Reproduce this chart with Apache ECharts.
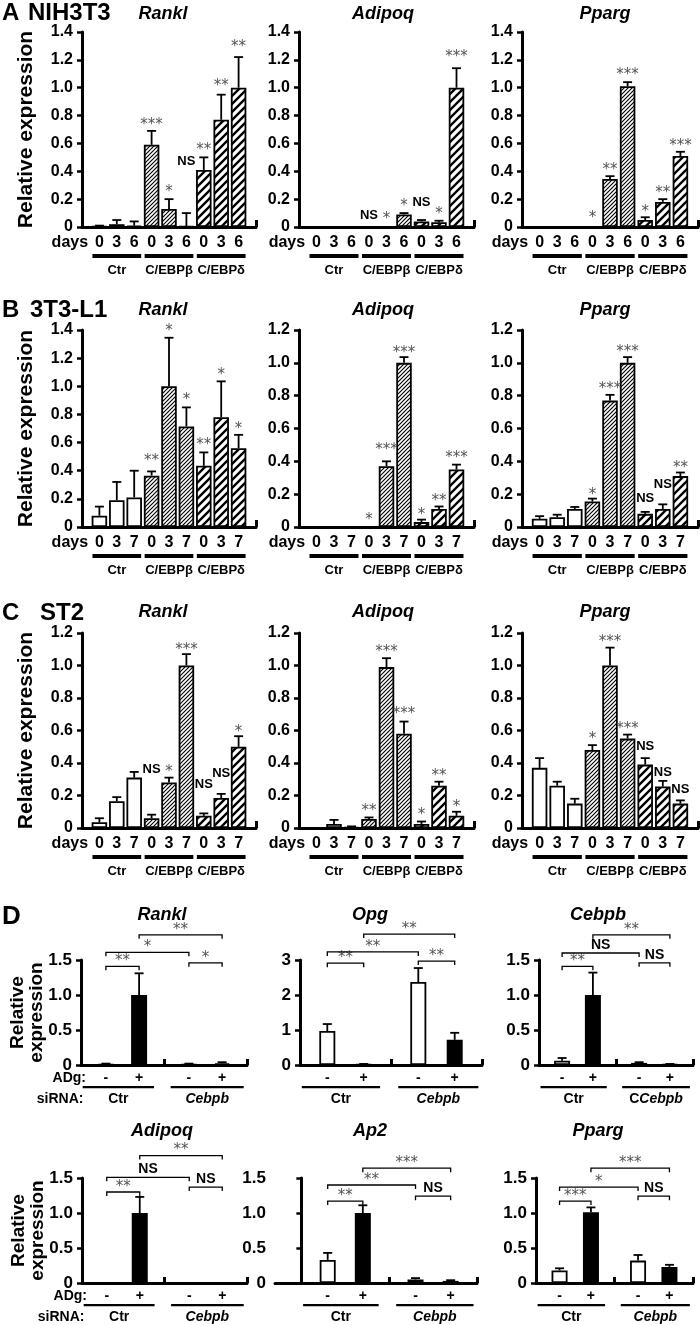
<!DOCTYPE html>
<html><head><meta charset="utf-8">
<script src="https://cdn.jsdelivr.net/npm/echarts@6/dist/echarts.min.js"></script>
<style>html,body{margin:0;padding:0;background:#fff}#c{width:700px;height:1325px}</style>
</head><body><div id="c"></div>
<script>
// ---------- DATA ----------
const daysA = ['0','3','6'];
const daysBC = ['0','3','7'];
const groupsABC = ['Ctr','C/EBPβ','C/EBPδ'];
const adgLabels = ['-','+','-','+'];
const sirnaGroups = ['Ctr','Cebpb'];

// A  NIH3T3
const A_rankl     = [0.005,0.02,0.01, 0.59,0.13,0.005, 0.41,0.77,1.0];
const A_rankl_err = [0.01,0.05,0.04, 0.69,0.2,0.1, 0.5,0.95,1.22];
const A_rankl_sig = [[4,0.75,'***'],[5,0.27,'*'],[6,0.47,'NS'],[7,0.57,'**'],[8,1.03,'**'],[9,1.31,'**']];
const A_adipoq     = [null,null,null, null,null,0.09, 0.04,0.035,1.0];
const A_adipoq_err = [null,null,null, null,null,0.1, 0.05,0.045,1.14];
const A_adipoq_sig = [[4,0.08,'NS'],[5,0.075,'*'],[6,0.175,'*'],[7,0.18,'NS'],[8,0.115,'*'],[9,1.24,'***']];
const A_pparg     = [null,null,null, null,0.345,1.01, 0.05,0.18,0.51];
const A_pparg_err = [null,null,null, null,0.365,1.04, 0.07,0.2,0.54];
const A_pparg_sig = [[4,0.085,'*'],[5,0.43,'**'],[6,1.11,'***'],[7,0.13,'*'],[8,0.265,'**'],[9,0.6,'***']];

// B  3T3-L1
const B_rankl     = [0.08,0.19,0.21, 0.365,1.0,0.715, 0.435,0.78,0.56];
const B_rankl_err = [0.145,0.32,0.40, 0.395,1.345,0.85, 0.53,1.035,0.655];
const B_rankl_sig = [[4,0.49,'**'],[5,1.41,'*'],[6,0.92,'*'],[7,0.6,'**'],[8,1.1,'*'],[9,0.72,'*']];
const B_adipoq     = [null,null,null, null,0.37,1.0, 0.03,0.11,0.35];
const B_adipoq_err = [null,null,null, null,0.4,1.035, 0.045,0.125,0.38];
const B_adipoq_sig = [[4,0.06,'*'],[5,0.485,'***'],[6,1.08,'***'],[7,0.09,'*'],[8,0.175,'**'],[9,0.435,'***']];
const B_pparg     = [0.05,0.06,0.11, 0.155,0.77,1.0, 0.08,0.11,0.31];
const B_pparg_err = [0.066,0.075,0.122, 0.173,0.805,1.035, 0.092,0.138,0.332];
const B_pparg_sig = [[4,0.215,'*'],[5,0.86,'***'],[6,1.085,'***'],[7,0.175,'NS'],[8,0.26,'NS'],[9,0.38,'**']];

// C  ST2
const C_rankl     = [0.035,0.165,0.31, 0.06,0.28,1.0, 0.075,0.185,0.5];
const C_rankl_err = [0.06,0.19,0.345, 0.082,0.31,1.07, 0.09,0.21,0.565];
const C_rankl_sig = [[4,0.36,'NS'],[5,0.365,'*'],[6,1.115,'***'],[7,0.27,'NS'],[8,0.335,'NS'],[9,0.61,'*']];
const C_adipoq     = [null,0.025,0.005, 0.055,0.99,0.58, 0.025,0.26,0.075];
const C_adipoq_err = [null,0.05,0.01, 0.065,1.045,0.655, 0.04,0.285,0.1];
const C_adipoq_sig = [[4,0.12,'**'],[5,1.1,'***'],[6,0.72,'***'],[7,0.095,'*'],[8,0.335,'**'],[9,0.15,'*']];
const C_pparg     = [0.37,0.26,0.15, 0.48,1.0,0.55, 0.39,0.255,0.15];
const C_pparg_err = [0.43,0.285,0.18, 0.51,1.11,0.575, 0.43,0.29,0.17];
const C_pparg_sig = [[4,0.565,'*'],[5,1.16,'***'],[6,0.625,'***'],[7,0.5,'NS'],[8,0.345,'NS'],[9,0.24,'NS']];

// D  siRNA (order: Ctr -, Ctr +, Cebpb -, Cebpb +); brackets [barA, barB, level, text]
const D_rankl     = [0.01,1.0,0.01,0.025];
const D_rankl_err = [0.02,1.31,0.02,0.04];
const D_rankl_br  = [[0,1,1.41,'**'],[0,2,1.61,'*'],[2,3,1.46,'*'],[1,3,1.86,'**']];
const D_opg       = [0.97,0.02,2.37,0.72];
const D_opg_err   = [1.17,0.03,2.77,0.92];
const D_opg_br    = [[0,1,2.91,'**'],[0,2,3.23,'**'],[2,3,2.97,'**'],[1,3,3.74,'**']];
const D_cebpb     = [0.06,1.0,0.03,0.01];
const D_cebpb_err = [0.1,1.32,0.04,0.015];
const D_cebpb_br  = [[0,1,1.41,'**'],[0,2,1.6,'NS'],[2,3,1.46,'NS'],[1,3,1.86,'**']];
const D_adipoq     = [null,1.0,null,null];
const D_adipoq_err = [null,1.23,null,null];
const D_adipoq_br  = [[0,1,1.3,'**'],[0,2,1.51,'NS'],[2,3,1.37,'NS'],[1,3,1.82,'**']];
const D_ap2       = [0.33,1.0,0.05,0.03];
const D_ap2_err   = [0.43,1.11,0.07,0.04];
const D_ap2_br    = [[0,1,1.17,'**'],[0,2,1.4,'**'],[2,3,1.24,'NS'],[1,3,1.64,'***']];
const D_pparg     = [0.18,1.01,0.32,0.23];
const D_pparg_err = [0.21,1.08,0.40,0.26];
const D_pparg_br  = [[0,1,1.17,'***'],[0,2,1.37,'*'],[2,3,1.24,'NS'],[1,3,1.64,'***']];

// ---------- RENDER ----------
const FONT = '"Liberation Sans", Arial, Helvetica, sans-serif';
const STARFONT = '15px "DejaVu Sans", sans-serif';
function hatch(size, lw) {
  const c = document.createElement('canvas');
  c.width = c.height = size;
  const g = c.getContext('2d');
  g.fillStyle = '#fff'; g.fillRect(0,0,size,size);
  g.strokeStyle = '#000'; g.lineWidth = lw; g.lineCap = 'square';
  g.beginPath();
  for (let k = -1; k <= 1; k++) { g.moveTo(k*size, size); g.lineTo(k*size + size, 0); }
  g.stroke();
  return c;
}
const FILLS = ['#ffffff', {image: hatch(4, 1.1), repeat: 'repeat'}, {image: hatch(8, 2.4), repeat: 'repeat'}];

const grids = [], xAxes = [], yAxes = [], series = [], graphic = [];

function yAxisDef(gi, max, interval, fmt, fs, name, nameGap, nameFs, lh) {
  return {gridIndex: gi, type: 'value', min: 0, max, interval, splitLine: {show: false},
    axisLine: {show: true, lineStyle: {color: '#000', width: 3}},
    axisTick: {show: true, inside: false, length: 5, lineStyle: {color: '#000', width: 2.5}},
    axisLabel: {color: '#000', fontFamily: FONT, fontWeight: 'bold', fontSize: fs, margin: 9, formatter: fmt},
    name: name || '', nameLocation: 'middle', nameGap: nameGap || 0, nameMoveOverlap: false,
    nameTextStyle: {color: '#000', fontFamily: FONT, fontWeight: 'bold', fontSize: nameFs || 12, lineHeight: lh || 14}};
}
function errSeries(gi, xs, vals, errs, cap) {
  const d = [];
  errs.forEach((e, i) => { if (e != null) d.push([xs[i], e, vals[i] || 0]); });
  return {type: 'custom', xAxisIndex: gi, yAxisIndex: gi, clip: false, z: 4, data: d,
    renderItem: (p, api) => {
      const x = api.value(0);
      const top = api.coord([x, api.value(1)]), base = api.coord([x, api.value(2)]);
      return {type: 'group', children: [
        {type: 'line', shape: {x1: top[0], y1: base[1], x2: top[0], y2: top[1]}, style: {stroke: '#000', lineWidth: 1.8}},
        {type: 'line', shape: {x1: top[0]-cap, y1: top[1], x2: top[0]+cap, y2: top[1]}, style: {stroke: '#000', lineWidth: 1.8}}]};
    }};
}
function txt(label, x, y, nsFont) {
  const star = label !== 'NS';
  return {type: 'text', x, y: y + (star ? 3 : 0), style: {text: label, align: 'center', verticalAlign: 'middle',
    font: star ? STARFONT : nsFont, fill: star ? '#555' : '#000'}};
}

function addABC(gi, rect, ymax, vals, errs, sigs, days, withName) {
  const [l, r, t, h] = rect;
  grids.push({left: l, top: t, width: r - l, height: h, containLabel: false, outerBoundsMode: 'none'});
  const xs = vals.map((v, i) => i + 1);
  xAxes.push({gridIndex: gi, type: 'value', min: 0, max: 10, splitLine: {show: false},
    axisLine: {show: true, onZero: false, lineStyle: {color: '#000', width: 3}},
    axisTick: {show: true, inside: true, length: 7, lineStyle: {color: '#000', width: 3}, customValues: [10]},
    axisLabel: {show: true, customValues: xs, formatter: v => days[(Math.round(v) - 1) % 3],
      color: '#000', fontFamily: FONT, fontWeight: 'bold', fontSize: 16, margin: 8}});
  yAxes.push(yAxisDef(gi, ymax, 0.2, v => v === 0 ? '0' : v.toFixed(1), 16,
    withName ? 'Relative expression' : '', 44, 21, 24));
  const bd = [];
  vals.forEach((v, i) => { if (v != null) bd.push({value: [xs[i], v], itemStyle: {color: FILLS[Math.floor(i / 3)]}}); });
  series.push({type: 'bar', xAxisIndex: gi, yAxisIndex: gi, barWidth: 15.5, data: bd,
    itemStyle: {borderColor: '#000', borderWidth: 1.8}});
  series.push(errSeries(gi, xs, vals, errs, 4.5));
  series.push({type: 'custom', xAxisIndex: gi, yAxisIndex: gi, clip: false, z: 5,
    data: sigs.map(s => [s[0], s[1]]),
    renderItem: (p, api) => {
      const s = sigs[p.dataIndex]; const pt = api.coord([s[0], s[1]]);
      return txt(s[2], pt[0], pt[1], 'bold 13px ' + FONT);
    }});
  // group underlines + labels + "days"
  const spans = groupsABC.map((g, k) => [3 * k + 0.6, 3 * k + 3.4]);
  series.push({type: 'custom', xAxisIndex: gi, yAxisIndex: gi, clip: false, z: 5,
    data: spans.map(s => [s[0], s[1]]).concat([[0.35, 0.35]]),
    renderItem: (p, api) => {
      const a = api.coord([api.value(0), 0]), b = api.coord([api.value(1), 0]);
      if (p.dataIndex === spans.length) {
        return {type: 'text', x: a[0], y: a[1] + 16, style: {text: 'days', align: 'right', verticalAlign: 'middle',
          font: 'bold 16px ' + FONT, fill: '#000'}};
      }
      return {type: 'group', children: [
        {type: 'rect', shape: {x: a[0], y: a[1] + 27, width: b[0] - a[0], height: 4}, style: {fill: '#000'}},
        {type: 'text', x: (a[0] + b[0]) / 2, y: a[1] + 43, style: {text: groupsABC[p.dataIndex], align: 'center',
          verticalAlign: 'middle', font: 'bold 13px ' + FONT, fill: '#000'}}]};
    }});
}

const DX = [1.5, 3.5, 6.5, 8.5];
function addD(gi, rect, xmin, ymax, yint, vals, errs, brs, withLabels, groupRich) {
  const [l, r, t, h] = rect;
  grids.push({left: l, top: t, width: r - l, height: h, containLabel: false, outerBoundsMode: 'none'});
  xAxes.push({gridIndex: gi, type: 'value', min: xmin, max: 10, splitLine: {show: false},
    axisLine: {show: true, onZero: false, lineStyle: {color: '#000', width: 3}},
    axisTick: {show: true, inside: true, length: 6, lineStyle: {color: '#000', width: 3}, customValues: [5, 10]},
    axisLabel: {show: true, customValues: DX, formatter: v => adgLabels[DX.indexOf(v)],
      color: '#000', fontFamily: FONT, fontWeight: 'bold', fontSize: 14, margin: 6}});
  yAxes.push(yAxisDef(gi, ymax, yint, v => v === 0 ? '0' : (yint < 1 ? v.toFixed(1) : String(v)), 17,
    withLabels ? 'Relative\nexpression' : '', 35, 19, 19));
  const bd = [];
  vals.forEach((v, i) => { if (v != null) bd.push({value: [DX[i], v], itemStyle: {color: i % 2 ? '#000' : '#fff'}}); });
  series.push({type: 'bar', xAxisIndex: gi, yAxisIndex: gi, barWidth: 16, data: bd,
    itemStyle: {borderColor: '#000', borderWidth: 1.8}});
  series.push(errSeries(gi, DX, vals, errs, 4.5));
  series.push({type: 'custom', xAxisIndex: gi, yAxisIndex: gi, clip: false, z: 5,
    data: brs.map(b => [DX[b[0]], b[2], DX[b[1]]]),
    renderItem: (p, api) => {
      const b = brs[p.dataIndex];
      const a = api.coord([DX[b[0]], b[2]]), c = api.coord([DX[b[1]], b[2]]);
      return {type: 'group', children: [
        {type: 'polyline', shape: {points: [[a[0], a[1] + 4], [a[0], a[1]], [c[0], c[1]], [c[0], c[1] + 4]]},
          style: {stroke: '#000', lineWidth: 1.3, fill: null}},
        txt(b[3], (a[0] + c[0]) / 2, a[1] - 8, 'bold 14px ' + FONT)]};
    }});
  const spans = [[0.1, 4.4], [5.4, 9.8]];
  series.push({type: 'custom', xAxisIndex: gi, yAxisIndex: gi, clip: false, z: 5,
    data: spans.map(s => [s[0], s[1]]).concat(withLabels ? [[0.3, 0.3], [0.15, 0.15]] : []),
    renderItem: (p, api) => {
      const a = api.coord([api.value(0), 0]), b = api.coord([api.value(1), 0]);
      if (p.dataIndex === 2) return {type: 'text', x: a[0], y: a[1] + 13, style: {text: 'ADg:', align: 'right',
          verticalAlign: 'middle', font: 'bold 14px ' + FONT, fill: '#000'}};
      if (p.dataIndex === 3) return {type: 'text', x: a[0], y: a[1] + 34, style: {text: 'siRNA:', align: 'right',
          verticalAlign: 'middle', font: 'bold 14px ' + FONT, fill: '#000'}};
      const k = p.dataIndex;
      let label;
      if (k === 0) label = {text: sirnaGroups[0], font: 'bold 14px ' + FONT};
      else if (groupRich) label = {text: '{n|C}{i|' + sirnaGroups[1] + '}', rich: {n: {font: 'bold 14px ' + FONT}, i: {font: 'italic bold 14px ' + FONT}}};
      else label = {text: sirnaGroups[1], font: 'italic bold 14px ' + FONT};
      return {type: 'group', children: [
        {type: 'rect', shape: {x: a[0], y: a[1] + 21, width: b[0] - a[0], height: 2.2}, style: {fill: '#000'}},
        {type: 'text', x: (a[0] + b[0]) / 2, y: a[1] + 34, style: Object.assign({align: 'center', verticalAlign: 'middle', fill: '#000'}, label)}]};
    }});
}

// layout
const colsABC = [[82, 256], [299, 474], [522, 698]];
const rowsABC = [[32, 195], [330, 197], [633, 195]];
const panelsABC = [
  [[A_rankl, A_rankl_err, A_rankl_sig, 1.4], [A_adipoq, A_adipoq_err, A_adipoq_sig, 1.4], [A_pparg, A_pparg_err, A_pparg_sig, 1.4]],
  [[B_rankl, B_rankl_err, B_rankl_sig, 1.4], [B_adipoq, B_adipoq_err, B_adipoq_sig, 1.2], [B_pparg, B_pparg_err, B_pparg_sig, 1.2]],
  [[C_rankl, C_rankl_err, C_rankl_sig, 1.2], [C_adipoq, C_adipoq_err, C_adipoq_sig, 1.2], [C_pparg, C_pparg_err, C_pparg_sig, 1.2]]];
let gi = 0;
panelsABC.forEach((row, ri) => row.forEach((p, ci) => {
  addABC(gi++, [colsABC[ci][0], colsABC[ci][1], rowsABC[ri][0], rowsABC[ri][1]], p[3], p[0], p[1], p[2],
    ri === 0 ? daysA : daysBC, ci === 0);
}));
const rowsD = [[960, 105], [1178, 105]];
const colsD = [[[81, 247], [300, 482], [539, 693]], [[82, 247], [275, 477], [536, 693]]];
const panelsD = [
  [[D_rankl, D_rankl_err, D_rankl_br, 1.5, 0.5, 0], [D_opg, D_opg_err, D_opg_br, 3, 1, 0], [D_cebpb, D_cebpb_err, D_cebpb_br, 1.5, 0.5, 0]],
  [[D_adipoq, D_adipoq_err, D_adipoq_br, 1.5, 0.5, 0], [D_ap2, D_ap2_err, D_ap2_br, 1.5, 0.5, -1.5], [D_pparg, D_pparg_err, D_pparg_br, 1.5, 0.5, 0]]];
panelsD.forEach((row, ri) => row.forEach((p, ci) => {
  const c = colsD[ri][ci];
  addD(gi++, [c[0], c[1], rowsD[ri][0], rowsD[ri][1]], p[5], p[3], p[4], p[0], p[1], p[2], ci === 0, ri === 0 && ci === 2);
}));

// titles & panel letters
function T(text, x, y, font, align) {
  graphic.push({type: 'text', x, y, style: {text, font, align: align || 'center', verticalAlign: 'middle', fill: '#000'}});
}
const TF = 'italic bold 18px ' + FONT;
const titleX = [163, 383, 605];
const titleY = [14, 310, 612];
titleY.forEach(y => { ['Rankl', 'Adipoq', 'Pparg'].forEach((t, i) => T(t, titleX[i], y, TF)); });
const titleXD = [162, 370, 598];
['Rankl', 'Opg', 'Cebpb'].forEach((t, i) => T(t, titleXD[i], 915, TF));
['Adipoq', 'Ap2', 'Pparg'].forEach((t, i) => T(t, titleXD[i], 1131, TF));
const PF = 'bold 24px ' + FONT;
T('A', 2, 13, PF, 'left'); T('NIH3T3', 28, 13, PF, 'left');
T('B', 2, 310, PF, 'left'); T('3T3-L1', 30, 310, PF, 'left');
T('C', 2, 613, PF, 'left'); T('ST2', 40, 613, PF, 'left');
T('D', 2, 917, 'bold 26px ' + FONT, 'left');

const chart = echarts.init(document.getElementById('c'));
chart.setOption({animation: false, backgroundColor: '#fff', grid: grids, xAxis: xAxes, yAxis: yAxes, series, graphic});
</script></body></html>
